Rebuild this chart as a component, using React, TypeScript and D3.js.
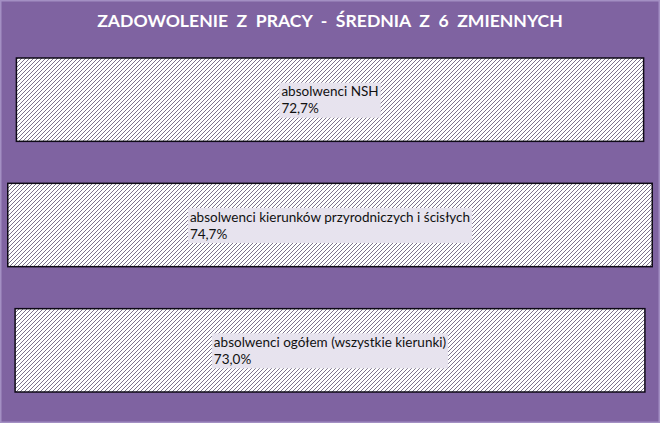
import React, { useRef, useEffect } from "react";
import * as d3 from "d3";

const TITLE = "ZADOWOLENIE  Z  PRACY  -  ŚREDNIA  Z  6  ZMIENNYCH";
const CATEGORIES = [
  "absolwenci NSH",
  "absolwenci kierunków przyrodniczych i ścisłych",
  "absolwenci ogółem (wszystkie kierunki)",
];
const VALUES = [72.7, 74.7, 73.0];

const W = 660;
const H = 423;
const BG = "#7f63a1";

const fmt = (v: number) => d3.format(".1f")(v).replace(".", ",") + "%";

const App: React.FC = () => {
  const svgRef = useRef<SVGSVGElement | null>(null);

  useEffect(() => {
    if (!svgRef.current) return;
    const svg = d3.select(svgRef.current);
    svg.selectAll("*").remove();

    // hatch pattern
    const defs = svg.append("defs");
    const pat = defs
      .append("pattern")
      .attr("id", "hatch")
      .attr("patternUnits", "userSpaceOnUse")
      .attr("width", 4)
      .attr("height", 4);
    pat.append("rect").attr("width", 4).attr("height", 4).attr("fill", "#ffffff");
    pat
      .append("path")
      .attr("d", "M-1,1 l2,-2 M0,4 l4,-4 M3,5 l2,-2")
      .attr("stroke", "#5b4f70")
      .attr("stroke-width", 0.8);

    // background + frame
    svg.append("rect").attr("width", W).attr("height", H).attr("fill", BG);
    svg
      .append("rect")
      .attr("x", 0.75)
      .attr("y", 0.75)
      .attr("width", W - 1.5)
      .attr("height", H - 1.5)
      .attr("fill", "none")
      .attr("stroke", "#a38fc3")
      .attr("stroke-width", 1.5);

    svg
      .append("text")
      .attr("x", W / 2)
      .attr("y", 27)
      .attr("text-anchor", "middle")
      .attr("fill", "#ffffff")
      .attr("font-family", "Lato, 'Open Sans', sans-serif")
      .attr("font-weight", 700)
      .attr("font-size", "17.6px")
      .style("white-space", "pre")
      .text(TITLE);

    const y = d3
      .scaleBand<number>()
      .domain(d3.range(VALUES.length))
      .range([37, 413])
      .paddingInner(0.335)
      .paddingOuter(0.1675);

    const x = d3.scaleLinear().domain([0, 76.5]).range([0, W]);
    const cx = 330;

    const g = svg.append("g");

    g.selectAll("rect.bar")
      .data(VALUES)
      .join("rect")
      .attr("class", "bar")
      .attr("x", (d) => cx - x(d) / 2)
      .attr("y", (_, i) => y(i)!)
      .attr("width", (d) => x(d))
      .attr("height", y.bandwidth())
      .attr("fill", "url(#hatch)")
      .attr("stroke", "#0e0a16")
      .attr("stroke-width", 1.5);

    VALUES.forEach((v, i) => {
      const mid = y(i)! + y.bandwidth() / 2;
      const lg = g.append("g");
      const box = lg.append("rect").attr("fill", "#e7e3ee");
      const t1 = lg
        .append("text")
        .attr("y", mid - 3.5)
        .attr("fill", "#111")
        .attr("font-family", "Lato, 'Open Sans', sans-serif")
        .attr("font-size", "13.5px")
        .text(CATEGORIES[i]);
      const tw = (t1.node() as SVGTextElement).getComputedTextLength();
      const left = cx - (tw + 4) / 2;
      t1.attr("x", left + 2);
      lg.append("text")
        .attr("x", left + 2)
        .attr("y", mid + 13.5)
        .attr("fill", "#111")
        .attr("font-family", "Lato, 'Open Sans', sans-serif")
        .attr("font-size", "13.5px")
        .text(fmt(v));
      box
        .attr("x", left)
        .attr("y", mid - 17)
        .attr("width", tw + 4)
        .attr("height", 35);
    });
  }, []);

  return (
    <>
      <style>{`body{margin:0}`}</style>
      <svg
        ref={svgRef}
        width={W}
        height={H}
        viewBox={`0 0 ${W} ${H}`}
        style={{ display: "block" }}
      />
    </>
  );
};

export default App;
